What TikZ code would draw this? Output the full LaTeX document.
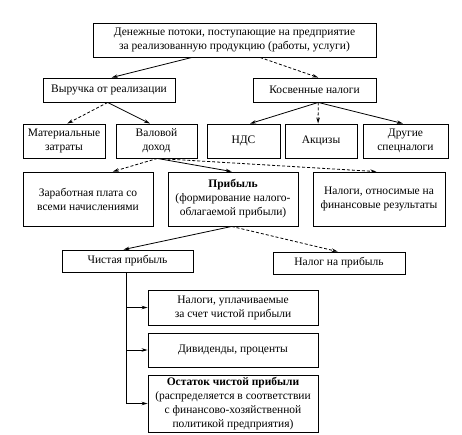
\documentclass[tikz,border=0pt]{standalone}
\usepackage{fontspec}
\setmainfont{Liberation Serif}
\usetikzlibrary{arrows.meta,calc}
\begin{document}
\begin{tikzpicture}[x=1pt,y=-1pt,
  box/.style={draw,line width=0.9pt,inner sep=0pt,align=center,font=\fontsize{11.5}{14}\selectfont},
  arr/.style={line width=0.8pt,-{Stealth[length=6pt,width=3.5pt]}},
  darr/.style={arr,dash pattern=on 3pt off 2pt}]
\useasboundingbox (0,0) rectangle (462,434);
\node[box,minimum width=283pt,minimum height=34pt] (top) at (234.5,40) {Денежные потоки, поступающие на предприятие\\за реализованную продукцию (работы, услуги)};
\node[box,minimum width=132pt,minimum height=24pt] (vyr) at (109,90) {Выручка от реализации};
\node[box,minimum width=123pt,minimum height=24pt] (kos) at (314.5,90) {Косвенные налоги};
\node[box,minimum width=82pt,minimum height=34pt] (mat) at (64,141) {Материальные\\затраты};
\node[box,minimum width=81pt,minimum height=34pt] (val) at (156.5,141) {Валовой\\доход};
\node[box,minimum width=73pt,minimum height=34pt] (nds) at (243.5,141) {НДС};
\node[box,minimum width=72pt,minimum height=34pt] (akc) at (321,141) {Акцизы};
\node[box,minimum width=85pt,minimum height=34pt] (dr) at (405.5,141) {Другие\\спецналоги};
\node[box,minimum width=130pt,minimum height=54pt] (zar) at (88,199) {Заработная плата со\\всеми начислениями};
\node[box,minimum width=130pt,minimum height=54pt] (prib) at (233,199) {\textbf{Прибыль}\\(формирование налого-\\облагаемой прибыли)};
\node[box,minimum width=132pt,minimum height=54pt] (nfr) at (379,199) {Налоги, относимые на\\финансовые результаты};
\node[box,minimum width=131pt,minimum height=22pt] (chp) at (127.5,261) {Чистая прибыль};
\node[box,minimum width=132pt,minimum height=22pt] (nnp) at (339,263) {Налог на прибыль};
\node[box,minimum width=170pt,minimum height=35pt] (nup) at (233,307.5) {Налоги, уплачиваемые\\за счет чистой прибыли};
\node[box,minimum width=170pt,minimum height=34pt] (div) at (233,350) {Дивиденды, проценты};
\node[box,minimum width=170pt,minimum height=57pt] (ost) at (233,403.5) {\textbf{Остаток чистой прибыли}\\(распределяется в соответствии\\с финансово-хозяйственной\\политикой предприятия)};
% connectors
\draw[arr] ($(top.south west)!0.35!(top.south east)$) -- ($(vyr.north west)!0.52!(vyr.north east)$);
\draw[darr] ($(top.south west)!0.59!(top.south east)$) -- ($(kos.north west)!0.53!(kos.north east)$);
\coordinate (vb) at ($(vyr.south west)!0.49!(vyr.south east)$);
\draw[darr] (vb) -- ($(mat.north west)!0.54!(mat.north east)$);
\draw[arr] (vb) -- ($(val.north west)!0.42!(val.north east)$);
\coordinate (kb) at ($(kos.south west)!0.53!(kos.south east)$);
\draw[arr] (kb) -- ($(nds.north west)!0.59!(nds.north east)$);
\draw[darr] (kb) -- ($(akc.north west)!0.46!(akc.north east)$);
\draw[arr] (kb) -- ($(dr.north west)!0.47!(dr.north east)$);
\coordinate (gb) at ($(val.south west)!0.51!(val.south east)$);
\draw[darr] (gb) -- ($(zar.north west)!0.69!(zar.north east)$);
\draw[arr] (gb) -- ($(prib.north west)!0.49!(prib.north east)$);
\draw[darr] (gb) -- ($(nfr.north west)!0.48!(nfr.north east)$);
\coordinate (pb) at ($(prib.south west)!0.49!(prib.south east)$);
\draw[arr] (pb) -- ($(chp.north west)!0.47!(chp.north east)$);
\draw[darr] (pb) -- ($(nnp.north west)!0.49!(nnp.north east)$);
\coordinate (cb) at ($(chp.south west)!0.49!(chp.south east)$);
\draw[arr] (cb) |- (nup.west);
\draw[arr] (cb) |- (div.west);
\draw[arr] (cb) |- (ost.west);
\end{tikzpicture}
\end{document}
